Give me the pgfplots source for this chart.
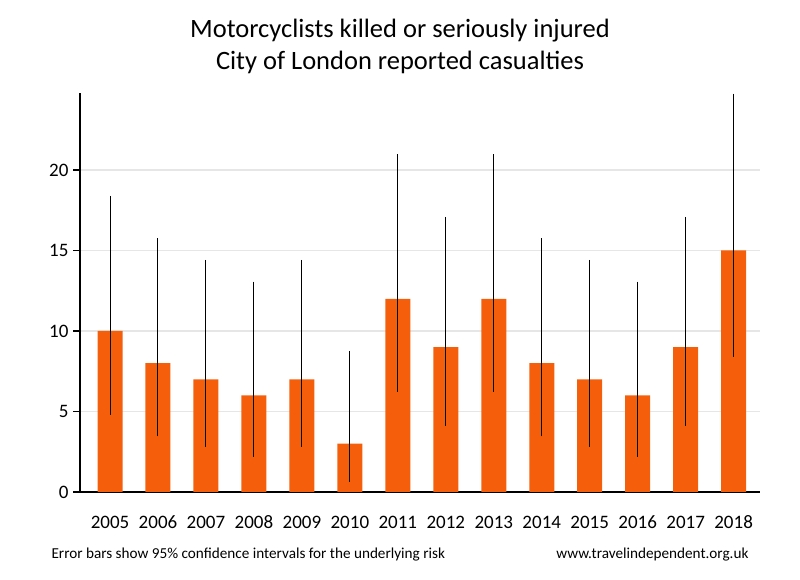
\documentclass[border=0pt]{standalone}
\usepackage{pgfplots}
\pgfplotsset{compat=1.18}
\usepackage{pgfplotstable}
\usepackage{fontspec}
\setmainfont{Carlito}

\definecolor{barorange}{HTML}{F55F0C}
\definecolor{gridgray}{HTML}{E6E6E6}

% year, casualties, CI upper minus value, value minus CI lower
\pgfplotstableread{
yr  n   ep     em
2005 10 8.390 5.205
2006 8  7.763 4.546
2007 7  7.423 4.186
2008 6  7.059 3.798
2009 7  7.423 4.186
2010 3  5.767 2.381
2011 12 8.962 5.799
2012 9  8.085 4.885
2013 12 8.962 5.799
2014 8  7.763 4.546
2015 7  7.423 4.186
2016 6  7.059 3.798
2017 9  8.085 4.885
2018 15 9.740 6.605
}\casualties

\begin{document}
\begin{tikzpicture}
\begin{axis}[
    at={(0,0)}, anchor=south west,
    scale only axis,
    width=680pt, height=399pt,
    xmin=2004.374, xmax=2018.55,
    ymin=0, ymax=24.78,
    axis lines*=left,
    axis line style={black, line width=2pt},
    xtick=data,
    xticklabels={2005,2006,2007,2008,2009,2010,2011,2012,2013,2014,2015,2016,2017,2018},
    xtick style={draw=none},
    ytick={0,5,10,15,20},
    ytick style={black, line width=1.5pt},
    tick align=outside,
    major tick length=7pt,
    ymajorgrids,
    grid style={gridgray, line width=1.8pt},
    tick label style={font=\fontsize{19}{22}\selectfont},
    /pgf/number format/assume math mode=true,
    xticklabel style={anchor=base, yshift=-30pt},
    yticklabel style={xshift=-1pt},
]
\addplot[ybar, bar width=25pt, fill=barorange, draw=none,
    error bars/.cd, y dir=both, y explicit,
    error mark=none,
    error bar style={black, line width=1pt}]
    table[x=yr, y=n, y error plus=ep, y error minus=em] {\casualties};
\end{axis}
\node[align=center, font=\fontsize{26.5}{32}\selectfont] at (320pt,446pt)
    {Motorcyclists killed or seriously injured\\City of London reported casualties};
\node[anchor=west, font=\fontsize{15.2}{18}\selectfont] at (-32pt,-63pt)
    {Error bars show 95\% confidence intervals for the underlying risk};
\node[anchor=east, font=\fontsize{15.2}{18}\selectfont] at (672pt,-63pt)
    {www.travelindependent.org.uk};
\path[use as bounding box] (-80pt,-88pt) rectangle (720pt,492pt);
\end{tikzpicture}
\end{document}
